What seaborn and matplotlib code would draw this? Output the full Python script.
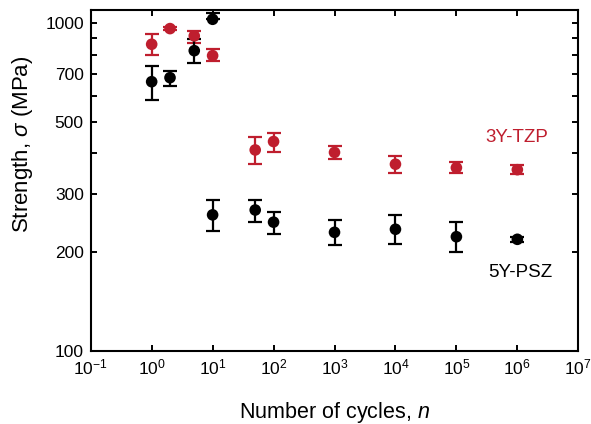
import numpy as np
import pandas as pd
import matplotlib
matplotlib.use("Agg")
import matplotlib.pyplot as plt
import matplotlib.ticker as mticker
import seaborn as sns

# Fatigue strength vs. number of cycles
cycles_tzp = [1, 2, 5, 10, 50, 100, 1e3, 1e4, 1e5, 1e6]
strength_tzp = [861, 961, 913, 795, 410, 435, 403, 371, 362, 357]
err_lo_tzp = [62, 10, 42, 29, 38, 31, 17, 23, 12, 11]
err_hi_tzp = [63, 10, 33, 37, 40, 28, 19, 22, 15, 11]

cycles_psz = [1, 2, 5, 10, 10, 50, 100, 1e3, 1e4, 1e5, 1e6]
strength_psz = [662, 681, 823, 1026, 260, 269, 247, 230, 235, 223, 219]
err_lo_psz = [80, 38, 66, 0, 28, 21, 19, 20, 23, 23, 4]
err_hi_psz = [78, 34, 68, 45, 28, 20, 18, 21, 24, 24, 4]

series_names = ["3Y-TZP", "5Y-PSZ"]
series_colors = {"3Y-TZP": "#BF1E2E", "5Y-PSZ": "#000000"}

y_major = [100, 200, 300, 500, 700, 1000]
y_minor = [400, 600, 800, 900]

df = pd.concat([
    pd.DataFrame({"n": cycles_tzp, "sigma": strength_tzp,
                  "lo": err_lo_tzp, "hi": err_hi_tzp, "material": "3Y-TZP"}),
    pd.DataFrame({"n": cycles_psz, "sigma": strength_psz,
                  "lo": err_lo_psz, "hi": err_hi_psz, "material": "5Y-PSZ"}),
], ignore_index=True)

sns.set_style("ticks")
plt.rcParams["font.family"] = ["Liberation Sans", "DejaVu Sans"]
plt.rcParams["mathtext.fontset"] = "custom"
plt.rcParams["mathtext.rm"] = "Liberation Sans"
plt.rcParams["mathtext.it"] = "Liberation Sans:italic"
plt.rcParams["text.color"] = "black"
plt.rcParams["axes.labelcolor"] = "black"
plt.rcParams["xtick.color"] = "black"
plt.rcParams["ytick.color"] = "black"

fig = plt.figure(figsize=(5.91, 4.24), dpi=100)
ax = fig.add_axes([0.1535, 0.1722, 0.825, 0.8042])

for name in series_names:
    sub = df[df["material"] == name]
    ax.errorbar(sub["n"], sub["sigma"], yerr=[sub["lo"], sub["hi"]],
                fmt="none", ecolor=series_colors[name], elinewidth=1.6,
                capsize=5, capthick=1.6, zorder=2)

sns.scatterplot(data=df, x="n", y="sigma", hue="material",
                palette=series_colors, hue_order=series_names,
                s=70, linewidth=0, legend=False, ax=ax, zorder=3)

ax.set_xscale("log")
ax.set_yscale("log")
ax.set_xlim(1e-1, 1e7)
ax.set_ylim(100, 1095)

ax.xaxis.set_major_locator(mticker.LogLocator(base=10, numticks=12))
ax.xaxis.set_minor_locator(mticker.NullLocator())
ax.xaxis.set_major_formatter(mticker.LogFormatterMathtext())

ax.yaxis.set_major_locator(mticker.FixedLocator(y_major))
ax.yaxis.set_major_formatter(mticker.FixedFormatter([str(v) for v in y_major]))
ax.yaxis.set_minor_locator(mticker.FixedLocator(y_minor))
ax.yaxis.set_minor_formatter(mticker.NullFormatter())

ax.tick_params(which="both", direction="in", top=True, right=True,
               length=4, width=1.4, labelsize=12.5, pad=5)
for sp in ax.spines.values():
    sp.set_linewidth(1.5)
    sp.set_color("black")

ax.set_xlabel("Number of cycles, $n$", fontsize=15.5)
ax.set_ylabel("Strength, $\\sigma$ (MPa)", fontsize=16)
ax.xaxis.set_label_coords(0.5, -0.143)
ax.yaxis.set_label_coords(-0.115, 0.607)

ax.text(3.0e5, 449, "3Y-TZP", color=series_colors["3Y-TZP"], fontsize=13.5,
        ha="left", va="center")
ax.text(3.3e5, 173, "5Y-PSZ", color="black", fontsize=13.5,
        ha="left", va="center")

fig.savefig("out.png", dpi=100)
